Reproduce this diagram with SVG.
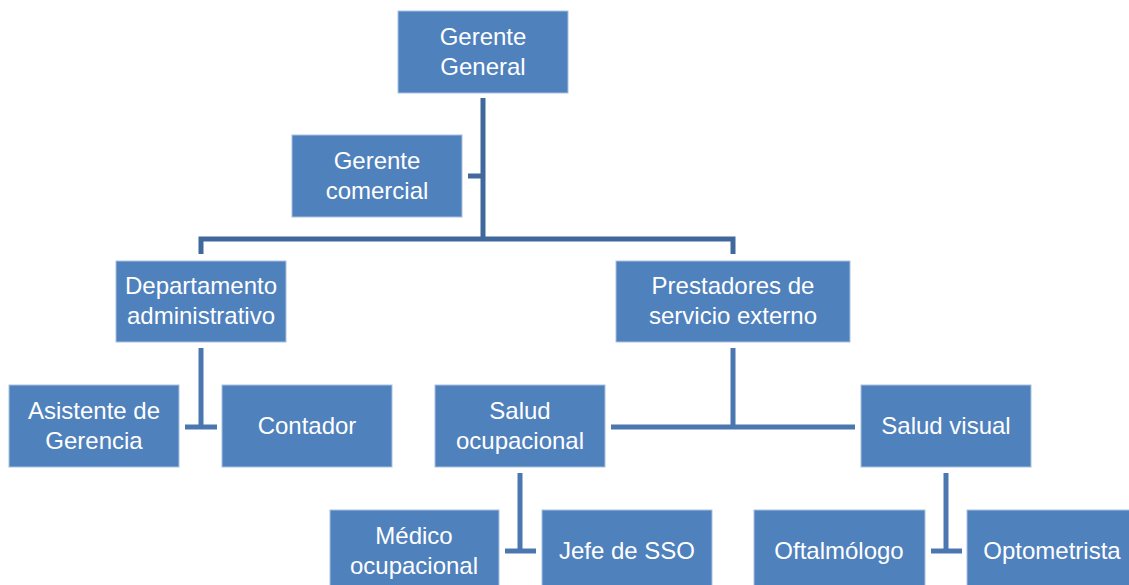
<svg xmlns="http://www.w3.org/2000/svg" width="1129" height="585" viewBox="0 0 1129 585">
<style>
.box{fill:#4f81bd;stroke:#a9c1df;stroke-width:1}
.t{font-family:"Liberation Sans",Arial,sans-serif;font-size:24px;fill:#ffffff;text-anchor:middle}
.c1{stroke:#41689c;stroke-width:5;fill:none}
.c2{stroke:#4a77b0;stroke-width:5;fill:none}
</style>
<rect width="1129" height="585" fill="#ffffff"/>
<g id="connectors">
<path class="c1" d="M483,98 V239"/>
<path class="c1" d="M468,176 H483"/>
<path class="c1" d="M201,254 V239 H733 V254"/>
<path class="c2" d="M201,348 V427"/>
<path class="c2" d="M185,427 H217"/>
<path class="c2" d="M733,348 V427"/>
<path class="c2" d="M611,427 H855"/>
<path class="c2" d="M520,473 V551"/>
<path class="c2" d="M505,551 H536"/>
<path class="c2" d="M946,473 V551"/>
<path class="c2" d="M931,551 H962"/>
</g>
<g id="gerente-general"><rect class="box" x="398" y="11" width="170" height="82"/><text class="t" x="483" y="45">Gerente</text><text class="t" x="483" y="75">General</text></g>
<g id="gerente-comercial"><rect class="box" x="292" y="135" width="170" height="82"/><text class="t" x="377" y="169">Gerente</text><text class="t" x="377" y="199">comercial</text></g>
<g id="departamento-administrativo"><rect class="box" x="116" y="261" width="170" height="81"/><text class="t" x="201" y="294">Departamento</text><text class="t" x="201" y="324">administrativo</text></g>
<g id="prestadores"><rect class="box" x="616" y="261" width="234" height="81"/><text class="t" x="733" y="294">Prestadores de</text><text class="t" x="733" y="324">servicio externo</text></g>
<g id="asistente"><rect class="box" x="9" y="385" width="170" height="82"/><text class="t" x="94" y="419">Asistente de</text><text class="t" x="94" y="449">Gerencia</text></g>
<g id="contador"><rect class="box" x="222" y="385" width="170" height="82"/><text class="t" x="307" y="434">Contador</text></g>
<g id="salud-ocupacional"><rect class="box" x="435" y="385" width="170" height="82"/><text class="t" x="520" y="419">Salud</text><text class="t" x="520" y="449">ocupacional</text></g>
<g id="salud-visual"><rect class="box" x="861" y="385" width="170" height="82"/><text class="t" x="946" y="434">Salud visual</text></g>
<g id="medico"><rect class="box" x="330" y="510" width="169" height="82"/><text class="t" x="414" y="544">Médico</text><text class="t" x="414" y="574">ocupacional</text></g>
<g id="jefe-sso"><rect class="box" x="542" y="510" width="170" height="82"/><text class="t" x="627" y="559">Jefe de SSO</text></g>
<g id="oftalmologo"><rect class="box" x="754" y="510" width="171" height="82"/><text class="t" x="839" y="559">Oftalmólogo</text></g>
<g id="optometrista"><rect class="box" x="967" y="510" width="170" height="82"/><text class="t" x="1052" y="559">Optometrista</text></g>
</svg>
